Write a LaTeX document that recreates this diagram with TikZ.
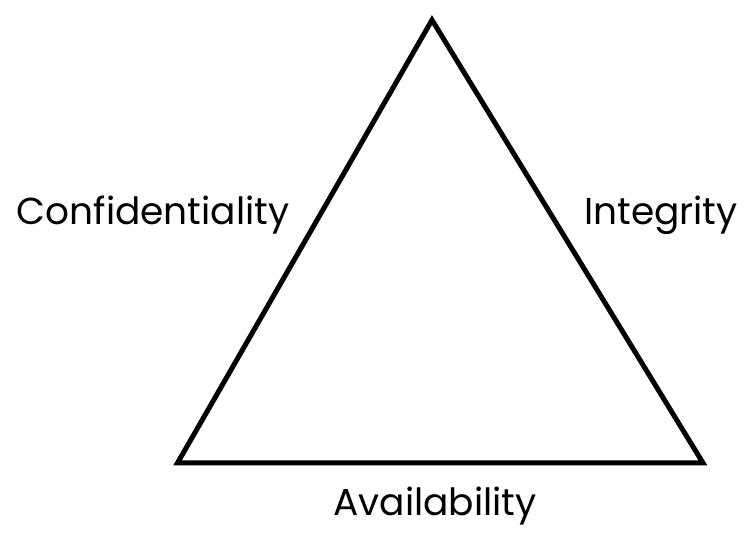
\documentclass[tikz,border=0pt]{standalone}
\usepackage{fontspec}
\setmainfont{Poppins}
\begin{document}
\begin{tikzpicture}[x=1pt,y=1pt,
  edge/.style={line width=5pt,line join=miter,draw=black},
  lbl/.style={anchor=base,inner sep=0pt,font=\fontsize{37.5}{40}\selectfont}]
\useasboundingbox (0,0) rectangle (753,546);
\coordinate (T) at (432,526);
\coordinate (L) at (177.5,83);
\coordinate (R) at (703,83);
\draw[edge] (T) -- (L) -- (R) -- cycle;
\node[lbl] (conf) at (153,321) {Confidentiality};
\node[lbl] (integ) at (661,321) {Integrity};
\node[lbl] (avail) at (435,30) {Availability};
\end{tikzpicture}
\end{document}
